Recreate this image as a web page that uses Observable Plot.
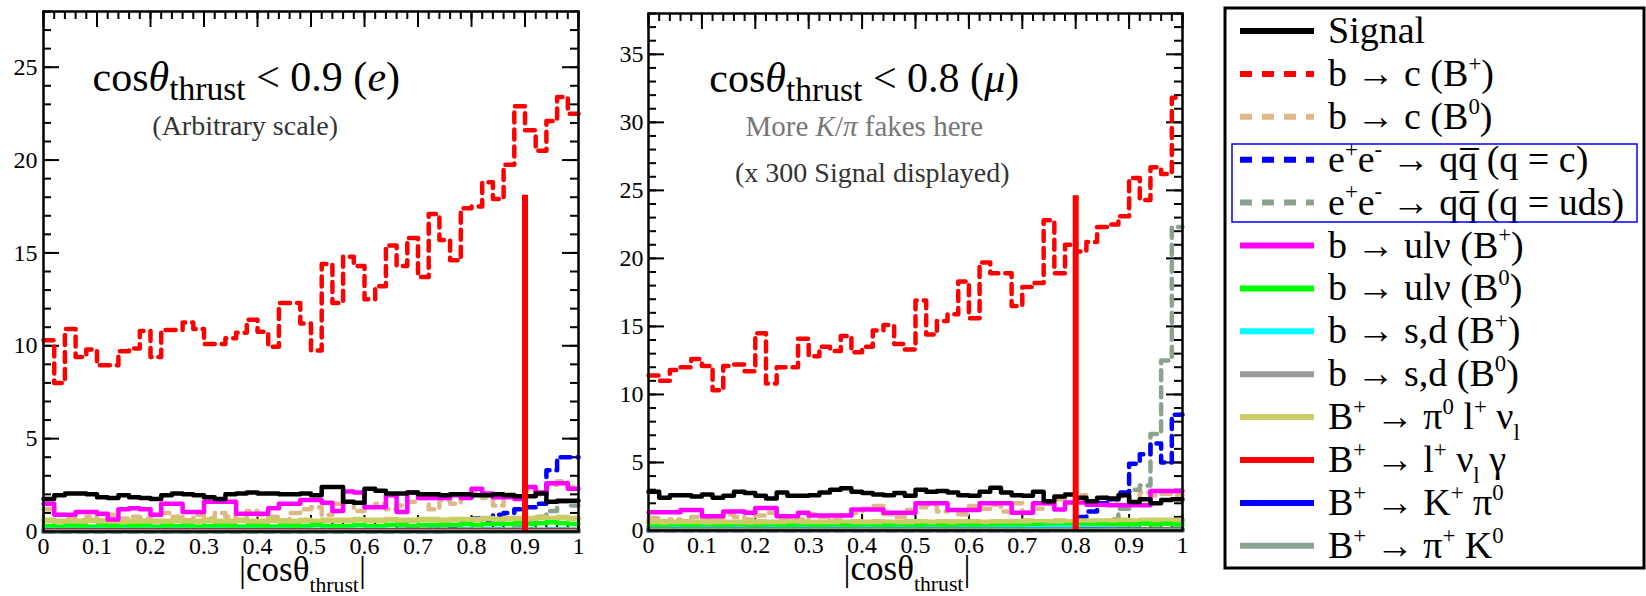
<!DOCTYPE html>
<html><head><meta charset="utf-8">
<script src="https://cdn.jsdelivr.net/npm/d3@7"></script>
<script src="https://cdn.jsdelivr.net/npm/@observablehq/plot@0.6"></script>
<style>
body{margin:0;background:#fff;}
#wrap{position:relative;width:1646px;height:596px;overflow:hidden;font-family:"Liberation Serif","Times New Roman",Tinos,Times,"DejaVu Serif",serif;}
.pos{position:absolute;top:0;}
#wrap text, #wrap tspan{font-family:"Liberation Serif","Times New Roman",Tinos,Times,"DejaVu Serif",serif;}
</style></head><body><div id="wrap"></div>
<script>
const FONT = '"Liberation Serif","Times New Roman",Tinos,Times,"DejaVu Serif",serif';
// ---------- axis ticks ----------
const xTicks = [0,0.1,0.2,0.3,0.4,0.5,0.6,0.7,0.8,0.9,1];
const xTickLabels = ["0","0.1","0.2","0.3","0.4","0.5","0.6","0.7","0.8","0.9","1"];
const yTicksE = [0,5,10,15,20,25];
const yTicksMu = [0,5,10,15,20,25,30,35];

// ---------- legend ----------
const seriesKeys = ["signal","bcBp","bcB0","qqc","qquds","bulnBp","bulnB0","bsdBp","bsdB0","pilnu","lnug","kpi","pik"];
const seriesLabels = ["Signal","b → c (B^{+})","b → c (B^{0})","e^{+}e^{-} → qq\u0305 (q = c)","e^{+}e^{-} → qq\u0305 (q = uds)",
  "b → ulν (B^{+})","b → ulν (B^{0})","b → s,d (B^{+})","b → s,d (B^{0})","B^{+} → π^{0} l^{+} ν_{l}",
  "B^{+} → l^{+} ν_{l} γ","B^{+} → K^{+} π^{0}","B^{+} → π^{+} K^{0}"];
const seriesColors = ["#000000","#ff0000","#deb887","#0000ff","#8aa28e","#ff00ff","#00ff00","#00ffff","#999999","#cccc66","#ff0000","#0000ff","#8aa28e"];
const seriesDashed = [false,true,true,true,true,false,false,false,false,false,false,false,false];

// ---------- panel 1: cos(theta_thrust) < 0.9 (e), 50 bins of 0.02 ----------
const signalE = [1.75,1.95,2.05,2.05,2.0,1.85,1.8,1.95,1.85,1.8, 1.75,1.95,2.05,2.0,1.95,1.85,1.75,2.0,2.05,2.1, 2.05,2.05,2.0,2.0,2.05,1.95,2.4,2.4,1.6,1.55, 2.3,2.2,2.05,2.05,2.1,2.0,2.0,1.95,2.0,2.0, 1.95,1.95,2.0,1.95,1.9,1.9,2.05,1.6,1.65,1.65];
const bcBpE = [10.3,8.0,10.9,9.4,9.8,8.95,8.95,9.7,9.85,10.8, 9.4,10.85,10.85,11.25,10.9,10.1,10.1,10.4,10.7,11.4, 10.75,9.95,12.3,12.3,11.2,9.75,14.4,12.3,14.8,14.3, 12.5,13.2,15.4,14.3,15.8,13.7,17.1,15.7,14.6,17.4, 17.5,18.8,17.9,19.75,22.9,21.6,20.5,22.1,23.4,22.5];
const bcB0E = [1.2,0.9,0.7,0.6,0.8,0.6,0.9,0.7,0.8,0.7, 0.9,1.0,0.8,0.6,0.9,0.7,1.0,0.8,0.6,1.1, 0.9,0.8,0.6,1.0,1.2,1.3,0.9,1.5,1.6,1.1, 1.3,1.5,1.2,1.4,1.6,1.8,1.2,1.7,1.5,1.9, 2.2,1.8,1.4,2.0,1.9,2.2,2.0,2.5,2.7,2.4];
const qqcE = [0,0,0,0,0,0,0,0,0,0, 0,0,0,0,0,0,0,0,0,0, 0,0,0,0,0,0,0,0,0,0, 0,0,0,0,0,0,0,0,0.3,0.5, 0.7,0.6,0.9,1.0,1.2,1.3,1.5,3.3,4.0,4.0];
const qqudsE = [0,0,0,0,0,0,0,0,0,0, 0,0,0,0,0,0,0,0,0,0, 0,0,0,0,0,0,0,0,0,0, 0,0,0,0,0,0,0,0,0,0, 0,0,0,0,0.3,0.5,0.8,1.1,1.6,1.4];
const bulnBpE = [1.5,0.9,0.9,1.05,1.05,0.95,0.65,1.2,1.25,1.2, 0.9,1.5,1.5,1.05,1.05,1.6,1.6,1.6,0.95,0.95, 0.95,1.25,1.5,1.5,1.7,1.7,1.55,1.1,2.15,2.1, 1.3,1.3,1.95,1.05,2.1,1.8,1.8,1.8,1.95,1.8, 2.3,2.05,1.85,1.85,1.75,2.4,2.1,2.6,2.6,2.3];
const bulnB0E = [0.3,0.25,0.3,0.3,0.25,0.3,0.3,0.25,0.3,0.3, 0.25,0.3,0.3,0.3,0.25,0.3,0.3,0.3,0.25,0.3, 0.3,0.25,0.3,0.3,0.3,0.35,0.3,0.3,0.3,0.35, 0.3,0.3,0.35,0.35,0.3,0.35,0.35,0.35,0.35,0.4, 0.35,0.4,0.4,0.4,0.45,0.4,0.45,0.5,0.45,0.4];
const bsdBpE = [0.1,0.08,0.1,0.08,0.1,0.1,0.08,0.1,0.08,0.1, 0.1,0.08,0.1,0.1,0.08,0.1,0.1,0.08,0.1,0.1, 0.08,0.1,0.1,0.08,0.1,0.1,0.1,0.08,0.1,0.1, 0.1,0.1,0.08,0.1,0.1,0.1,0.12,0.1,0.1,0.12, 0.1,0.12,0.12,0.1,0.12,0.12,0.1,0.12,0.12,0.1];
const bsdB0E = [0.05,0.05,0.06,0.05,0.05,0.06,0.05,0.05,0.06,0.05, 0.05,0.06,0.05,0.05,0.06,0.05,0.05,0.06,0.05,0.05, 0.06,0.05,0.05,0.06,0.05,0.05,0.06,0.05,0.05,0.06, 0.05,0.05,0.06,0.05,0.05,0.06,0.05,0.05,0.06,0.05, 0.05,0.06,0.05,0.05,0.06,0.05,0.05,0.06,0.05,0.05];
const pilnuE = [0.6,0.55,0.55,0.55,0.6,0.55,0.55,0.5,0.55,0.55, 0.55,0.55,0.6,0.55,0.55,0.6,0.55,0.55,0.6,0.55, 0.55,0.6,0.55,0.55,0.6,0.55,0.6,0.6,0.6,0.65, 0.6,0.6,0.65,0.6,0.6,0.65,0.65,0.6,0.65,0.65, 0.65,0.7,0.65,0.7,0.7,0.7,0.75,0.7,0.75,0.7];
const lnugE = [0.12,0.12,0.12,0.12,0.12,0.12,0.12,0.12,0.12,0.12, 0.12,0.12,0.12,0.12,0.12,0.12,0.12,0.12,0.12,0.12, 0.12,0.12,0.12,0.12,0.12,0.12,0.12,0.12,0.12,0.12, 0.12,0.12,0.12,0.14,0.14,0.14,0.14,0.14,0.14,0.14, 0.14,0.14,0.14,0.14,0.14,0.14,0.14,0.14,0.14,0.14];
const kpiE = [0.03,0.03,0.03,0.03,0.03,0.03,0.03,0.03,0.03,0.03, 0.03,0.03,0.03,0.03,0.03,0.03,0.03,0.03,0.03,0.03, 0.03,0.03,0.03,0.03,0.03,0.03,0.03,0.03,0.03,0.03, 0.03,0.03,0.03,0.03,0.03,0.03,0.03,0.03,0.03,0.03, 0.03,0.03,0.03,0.03,0.03,0.03,0.03,0.03,0.03,0.03];
const pikE = [0.01,0.01,0.01,0.01,0.01,0.01,0.01,0.01,0.01,0.01, 0.01,0.01,0.01,0.01,0.01,0.01,0.01,0.01,0.01,0.01, 0.01,0.01,0.01,0.01,0.01,0.01,0.01,0.01,0.01,0.01, 0.01,0.01,0.01,0.01,0.01,0.01,0.01,0.01,0.01,0.01, 0.01,0.01,0.01,0.01,0.01,0.01,0.01,0.01,0.01,0.01];

// ---------- panel 2: cos(theta_thrust) < 0.8 (mu) ----------
const signalMu = [2.85,2.4,2.6,2.6,2.5,2.65,2.4,2.55,2.85,2.75, 2.55,2.35,2.8,2.55,2.55,2.6,2.8,3.0,3.1,2.85, 2.75,2.65,2.6,2.75,2.55,3.0,2.85,2.9,2.8,2.6, 2.55,2.85,3.15,2.8,2.6,2.55,2.85,2.15,2.5,2.65, 2.4,2.15,2.4,2.35,2.6,2.1,2.3,2.0,2.25,2.3];
const bcBpMu = [11.4,11.0,11.8,12.0,12.6,12.1,10.3,12.1,12.2,11.7, 14.5,10.8,12.0,12.0,14.1,12.8,13.5,13.2,14.3,13.1, 13.5,14.7,15.1,13.7,13.3,16.9,14.4,15.4,15.9,18.3, 15.6,19.7,18.9,18.9,16.5,17.9,18.2,22.8,18.9,21.0, 20.5,21.2,22.3,22.5,23.1,25.9,24.3,26.7,26.2,31.8];
const bcB0Mu = [0.9,0.7,0.8,0.6,1.0,0.8,0.9,1.2,1.0,0.8, 1.1,1.3,0.9,1.0,0.8,1.2,1.0,0.9,1.1,1.3, 1.6,1.8,1.2,1.0,1.5,1.7,1.9,1.4,1.5,1.2, 1.8,1.6,1.9,1.4,2.0,1.3,1.6,2.0,2.3,2.1, 2.6,2.0,2.4,2.2,2.5,2.1,2.8,2.6,2.7,2.6];
const qqcMu = [0,0,0,0,0,0,0,0,0,0, 0,0,0,0,0,0,0,0,0,0, 0,0,0,0,0,0,0,0,0,0, 0,0,0,0,0,0,0,0,0.05,0.3, 1.0,1.4,2.0,2.3,2.8,4.9,5.6,6.4,5.0,8.5];
const qqudsMu = [0,0,0,0,0,0,0,0,0,0, 0,0,0,0,0,0,0,0,0,0, 0,0,0,0,0,0,0,0,0,0, 0,0,0,0,0,0,0,0,0,0, 0,0,0.3,0.8,1.6,3.0,3.3,7.1,12.5,22.3];
const bulnBpMu = [1.35,1.35,1.35,1.5,1.5,1.05,1.05,1.4,1.4,1.3, 1.65,1.65,1.05,1.05,1.3,1.1,1.1,1.1,1.1,1.55, 1.55,1.55,1.3,1.3,1.3,2.0,2.0,2.0,1.5,1.5, 1.5,2.0,2.0,2.0,1.3,1.3,2.0,2.0,1.55,2.05, 2.05,1.9,1.9,1.85,1.85,1.85,1.85,2.9,2.9,2.9];
const bulnB0Mu = [0.3,0.25,0.3,0.3,0.3,0.25,0.3,0.3,0.3,0.25, 0.3,0.3,0.3,0.35,0.3,0.3,0.3,0.3,0.35,0.3, 0.3,0.3,0.35,0.3,0.3,0.35,0.3,0.35,0.3,0.35, 0.35,0.3,0.35,0.35,0.35,0.35,0.4,0.35,0.35,0.4, 0.4,0.4,0.45,0.4,0.45,0.45,0.5,0.45,0.5,0.45];
const bsdBpMu = [0.1,0.1,0.12,0.1,0.1,0.12,0.1,0.1,0.12,0.1, 0.1,0.12,0.1,0.1,0.12,0.1,0.1,0.12,0.1,0.1, 0.12,0.1,0.1,0.12,0.1,0.1,0.12,0.1,0.1,0.12, 0.1,0.12,0.12,0.14,0.12,0.14,0.16,0.18,0.2,0.2, 0.2,0.18,0.16,0.14,0.12,0.12,0.1,0.1,0.1,0.1];
const bsdB0Mu = [0.06,0.06,0.07,0.06,0.06,0.07,0.06,0.06,0.07,0.06, 0.06,0.07,0.06,0.06,0.07,0.06,0.06,0.07,0.06,0.06, 0.07,0.06,0.06,0.07,0.06,0.06,0.07,0.06,0.06,0.07, 0.06,0.06,0.07,0.06,0.06,0.07,0.06,0.06,0.07,0.06, 0.06,0.07,0.06,0.06,0.07,0.06,0.06,0.07,0.06,0.06];
const pilnuMu = [0.65,0.6,0.6,0.65,0.6,0.6,0.65,0.6,0.6,0.6, 0.65,0.6,0.6,0.65,0.6,0.6,0.6,0.65,0.6,0.65, 0.6,0.65,0.6,0.6,0.65,0.65,0.6,0.65,0.65,0.65, 0.65,0.6,0.65,0.65,0.65,0.7,0.65,0.65,0.7,0.65, 0.7,0.7,0.7,0.7,0.75,0.7,0.75,0.75,0.75,0.75];
const lnugMu = [0.1,0.1,0.1,0.1,0.1,0.1,0.1,0.1,0.1,0.1, 0.1,0.1,0.1,0.1,0.1,0.1,0.1,0.1,0.1,0.1, 0.1,0.1,0.1,0.1,0.1,0.1,0.1,0.1,0.1,0.1, 0.1,0.1,0.1,0.1,0.1,0.1,0.1,0.1,0.1,0.1, 0.12,0.12,0.12,0.12,0.12,0.12,0.12,0.12,0.12,0.12];
const kpiMu = [0.03,0.03,0.03,0.03,0.03,0.03,0.03,0.03,0.03,0.03, 0.03,0.03,0.03,0.03,0.03,0.03,0.03,0.03,0.03,0.03, 0.03,0.03,0.03,0.03,0.03,0.03,0.03,0.03,0.03,0.03, 0.03,0.03,0.03,0.03,0.03,0.03,0.03,0.03,0.03,0.03, 0.03,0.03,0.03,0.03,0.03,0.03,0.03,0.03,0.03,0.03];
const pikMu = [0.01,0.01,0.01,0.01,0.01,0.01,0.01,0.01,0.01,0.01, 0.01,0.01,0.01,0.01,0.01,0.01,0.01,0.01,0.01,0.01, 0.01,0.01,0.01,0.01,0.01,0.01,0.01,0.01,0.01,0.01, 0.01,0.01,0.01,0.01,0.01,0.01,0.01,0.01,0.01,0.01, 0.01,0.01,0.01,0.01,0.01,0.01,0.01,0.01,0.01,0.01];

// cut lines (x position and height)
const cutX = [0.9, 0.8];
const cutTop = [18.1, 24.6];

// annotation texts
const titleE = "cos*{θ}_{thrust} < 0.9 (*{e})";
const noteE = "(Arbitrary scale)";
const titleMu = "cos*{θ}_{thrust} < 0.8 (*{μ})";
const noteMu1 = "More *{K}/*{π} fakes here";
const noteMu2 = "(x 300 Signal displayed)";
const xLabel = "|cosθ_{thrust}|";

// ---------- helpers ----------
const dataE = {signal:signalE,bcBp:bcBpE,bcB0:bcB0E,qqc:qqcE,qquds:qqudsE,bulnBp:bulnBpE,bulnB0:bulnB0E,bsdBp:bsdBpE,bsdB0:bsdB0E,pilnu:pilnuE,lnug:lnugE,kpi:kpiE,pik:pikE};
const dataMu = {signal:signalMu,bcBp:bcBpMu,bcB0:bcB0Mu,qqc:qqcMu,qquds:qqudsMu,bulnBp:bulnBpMu,bulnB0:bulnB0Mu,bsdBp:bsdBpMu,bsdB0:bsdB0Mu,pilnu:pilnuMu,lnug:lnugMu,kpi:kpiMu,pik:pikMu};
const drawOrder = ["bcB0","qquds","qqc","pilnu","bulnB0","bsdBp","bsdB0","lnug","kpi","pik","bulnBp","signal","bcBp"];
const widthOf = {pilnu:5.5, lnug:2.5, pik:5};

function rows(vals){
  const n = vals.length;
  const r = vals.map((v,i)=>({x: i/n, y: v}));
  r.push({x: 1, y: vals[n-1]});
  return r;
}

function rich(parent, str, size, o = {}) {
  const scale = o.scale ?? 0.62, supShift = o.supShift ?? -0.42, subShift = o.subShift ?? 0.3;
  const text = parent.append("text").attr("font-size", size).attr("font-family", FONT);
  const toks = str.match(/\^\{[^}]*\}|_\{[^}]*\}|\*\{[^}]*\}|[^^_*]+/g);
  let shift = 0;
  toks.forEach(tok => {
    let kind = "n", t = tok;
    if (tok.startsWith("^{")) {kind = "sup"; t = tok.slice(2,-1);}
    else if (tok.startsWith("_{")) {kind = "sub"; t = tok.slice(2,-1);}
    else if (tok.startsWith("*{")) {kind = "it"; t = tok.slice(2,-1);}
    const target = kind === "sup" ? supShift*size : kind === "sub" ? subShift*size : 0;
    const ts = text.append("tspan").text(t).attr("dy", target - shift);
    shift = target;
    if (kind === "sup" || kind === "sub") ts.attr("font-size", size*scale);
    if (kind === "it") ts.attr("font-style", "italic");
  });
  return text;
}

const W = 590, H = 596;
function panel(cfg) {
  const innerW = W - cfg.ml - cfg.mr, innerH = H - cfg.mt - cfg.mb;
  const yMinor = d3.range(0, cfg.yMax + 1);
  const xMinor = d3.range(0, 51).map(i => i/50);
  const marks = [];
  marks.push(Plot.tickY(yMinor, {y: d=>d, insetRight: innerW-8, stroke:"#000", strokeWidth:2}));
  marks.push(Plot.tickY(cfg.yTicks, {y: d=>d, insetRight: innerW-16, stroke:"#000", strokeWidth:2}));
  marks.push(Plot.tickY(yMinor, {y: d=>d, insetLeft: innerW-8, stroke:"#000", strokeWidth:2}));
  marks.push(Plot.tickY(cfg.yTicks, {y: d=>d, insetLeft: innerW-16, stroke:"#000", strokeWidth:2}));
  marks.push(Plot.tickX(xMinor, {x: d=>d, insetBottom: innerH-8, stroke:"#000", strokeWidth:2}));
  marks.push(Plot.tickX(xTicks, {x: d=>d, insetBottom: innerH-16, stroke:"#000", strokeWidth:2}));
  marks.push(Plot.tickX(xMinor, {x: d=>d, insetTop: innerH-8, stroke:"#000", strokeWidth:2}));
  marks.push(Plot.tickX(xTicks, {x: d=>d, insetTop: innerH-16, stroke:"#000", strokeWidth:2}));
  drawOrder.forEach(k => {
    const i = seriesKeys.indexOf(k);
    marks.push(Plot.line(rows(cfg.data[k]), {x:"x", y:"y", curve:"step-after",
      stroke: seriesColors[i], strokeWidth: widthOf[k] ?? 4.5,
      strokeDasharray: seriesDashed[i] ? "10,7" : null}));
  });
  marks.push(Plot.ruleX([cfg.cut], {x: d=>d.x, y1: 0, y2: d=>d.top, stroke:"#ff0000", strokeWidth:6}));
  marks.push(Plot.frame({stroke:"#000", strokeWidth:2.5}));
  marks.push(Plot.axisX(xTicks, {tickSize:0, tickPadding:5, label:null, fontFamily: FONT,
        tickFormat: d => xTickLabels[xTicks.indexOf(d)]}));
  marks.push(Plot.axisY(cfg.yTicks, {tickSize:0, tickPadding:cfg.padY, label:null, fontFamily: FONT}));
  const svg = Plot.plot({
    width: W, height: H,
    marginLeft: cfg.ml, marginRight: cfg.mr, marginTop: cfg.mt, marginBottom: cfg.mb,
    x: {domain:[0,1]},
    y: {domain:[0,cfg.yMax]},
    style: {fontFamily: FONT, fontSize:"24px", color:"#000", background:"transparent", overflow:"visible"},
    marks
  });
  svg.setAttribute("font-family", FONT);
  const sx = svg.scale("x"), sy = svg.scale("y");
  const g = d3.select(svg).append("g").attr("fill","#000");
  cfg.annot(g, v => sx.apply(v), v => sy.apply(v));
  rich(g, xLabel, 35, {scale:0.62, subShift:0.32})
    .attr("x", sx.apply(0.485)).attr("y", sy.apply(0) + 50).attr("text-anchor","middle");
  return svg;
}

const wrap = d3.select("#wrap");

const svgE = panel({ml:43, mr:12, mt:11, mb:65, yMax:28, yTicks:yTicksE, padY:6, data:dataE,
  cut:{x:cutX[0], top:cutTop[0]},
  annot:(g, X, Y) => {
    rich(g, titleE, 42, {scale:0.8, subShift:0.22}).attr("x", X(0.38)).attr("y", Y(23.7)).attr("text-anchor","middle");
    rich(g, noteE, 28).attr("x", X(0.378)).attr("y", Y(21.35)).attr("text-anchor","middle").attr("fill","#333");
  }});
const svgMu = panel({ml:48, mr:8, mt:13, mb:66, yMax:38, yTicks:yTicksMu, padY:5, data:dataMu,
  cut:{x:cutX[1], top:cutTop[1]},
  annot:(g, X, Y) => {
    rich(g, titleMu, 42, {scale:0.8, subShift:0.22}).attr("x", X(0.405)).attr("y", Y(32.2)).attr("text-anchor","middle");
    rich(g, noteMu1, 29).attr("x", X(0.405)).attr("y", Y(28.95)).attr("text-anchor","middle").attr("fill","#777");
    rich(g, noteMu2, 28).attr("x", X(0.42)).attr("y", Y(25.6)).attr("text-anchor","middle").attr("fill","#333");
  }});

wrap.append("div").attr("class","pos").style("left","0px").node().appendChild(svgE);
wrap.append("div").attr("class","pos").style("left","600px").node().appendChild(svgMu);

// ---------- legend box ----------
const leg = wrap.append("svg").attr("class","pos").style("left","1200px")
  .attr("width", 446).attr("height", 596)
  .attr("font-family", FONT);
leg.append("rect").attr("x",25).attr("y",8).attr("width",419).attr("height",560)
  .attr("fill","#fff").attr("stroke","#000").attr("stroke-width",3);
seriesKeys.forEach((k, i) => {
  const cy = 31 + 42.9*i;
  leg.append("line").attr("x1",40).attr("x2",114).attr("y1",cy).attr("y2",cy)
    .attr("stroke", seriesColors[i]).attr("stroke-width",6)
    .attr("stroke-dasharray", seriesDashed[i] ? "12,10" : null);
  rich(leg, seriesLabels[i], 38, {scale:0.6, supShift:-0.4, subShift:0.28})
    .attr("x",128).attr("y",cy+12).attr("fill","#000");
});
leg.append("rect").attr("x",32).attr("y",144).attr("width",405).attr("height",78)
  .attr("fill","none").attr("stroke","#0000ff").attr("stroke-width",1.5);
</script>
</body></html>
